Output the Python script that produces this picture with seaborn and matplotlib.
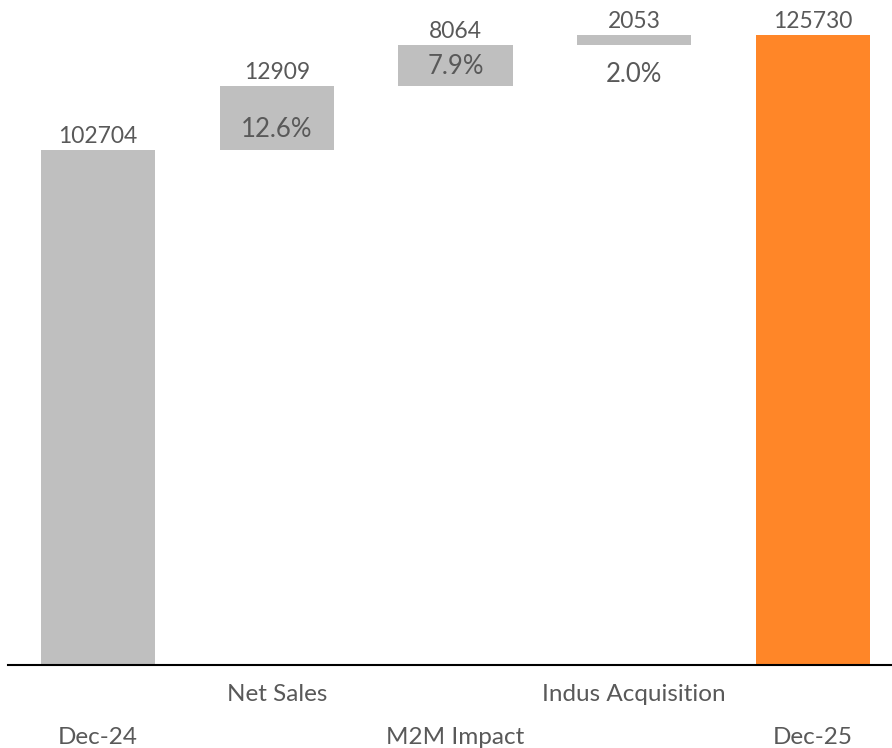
import matplotlib
matplotlib.use("Agg")
import matplotlib.pyplot as plt
from matplotlib.ticker import FixedLocator, FixedFormatter
import seaborn as sns
import numpy as np

# Bridge from Dec-24 to Dec-25
categories = ["Dec-24", "Net Sales", "M2M Impact", "Indus Acquisition", "Dec-25"]
opening = 102704
increments = [12909, 8064, 2053]
closing = 125730

sns.set_theme(style="white")
plt.rcParams["font.family"] = ["Lato", "DejaVu Sans"]

GREY = "#BFBFBF"
ORANGE = "#FF8628"
TEXT = "#595959"

heights = [opening] + increments + [closing]
bases = [0] + list(opening + np.cumsum([0] + increments[:-1])) + [0]
colors = [GREY, GREY, GREY, GREY, ORANGE]

fig = plt.figure(figsize=(8.92, 7.48), dpi=100)
ax = fig.add_axes([8 / 892, 1 - 665 / 748, 884 / 892, 665 / 748])

sns.barplot(x=categories, y=heights, bottom=bases, width=0.638,
            color=GREY, saturation=1, ax=ax, errorbar=None)
for patch, c in zip(ax.patches, colors):
    patch.set_facecolor(c)
    patch.set_edgecolor("none")

ax.set_xlim(-0.5035, 4.442)
ax.set_ylim(0, closing * 665 / 630)

# value labels above each bar
for i, (b, h) in enumerate(zip(bases, heights)):
    ax.annotate(f"{h}", (i, b + h), xytext=(0, 7), textcoords="offset pixels",
                ha="center", va="baseline", fontsize=16.5, color=TEXT)

# growth relative to the opening balance
pct_offsets = [13, 12, -37]
for j, inc in enumerate(increments):
    i = j + 1
    ax.annotate(f"{inc / opening * 100:.1f}%", (i, bases[i]),
                xytext=(0, pct_offsets[j]), textcoords="offset pixels",
                ha="center", va="baseline", fontsize=18.5, color=TEXT)

# staggered category labels: odd positions on the upper row, even on the lower row
upper = [1, 3]
lower = [0, 2, 4]
ax.xaxis.set_major_locator(FixedLocator(upper))
ax.xaxis.set_major_formatter(FixedFormatter([categories[i] for i in upper]))
ax.xaxis.set_minor_locator(FixedLocator(lower))
ax.xaxis.set_minor_formatter(FixedFormatter([categories[i] for i in lower]))
ax.tick_params(axis="x", which="major", length=0, pad=13.5, labelsize=17.5, labelcolor=TEXT)
ax.tick_params(axis="x", which="minor", length=0, pad=44.5, labelsize=17.5, labelcolor=TEXT)
ax.set_yticks([])
ax.set_xlabel("")
ax.set_ylabel("")

for side in ["top", "right", "left"]:
    ax.spines[side].set_visible(False)
ax.spines["bottom"].set_color("black")
ax.spines["bottom"].set_linewidth(1.5)

fig.savefig("out.png", dpi=100)
